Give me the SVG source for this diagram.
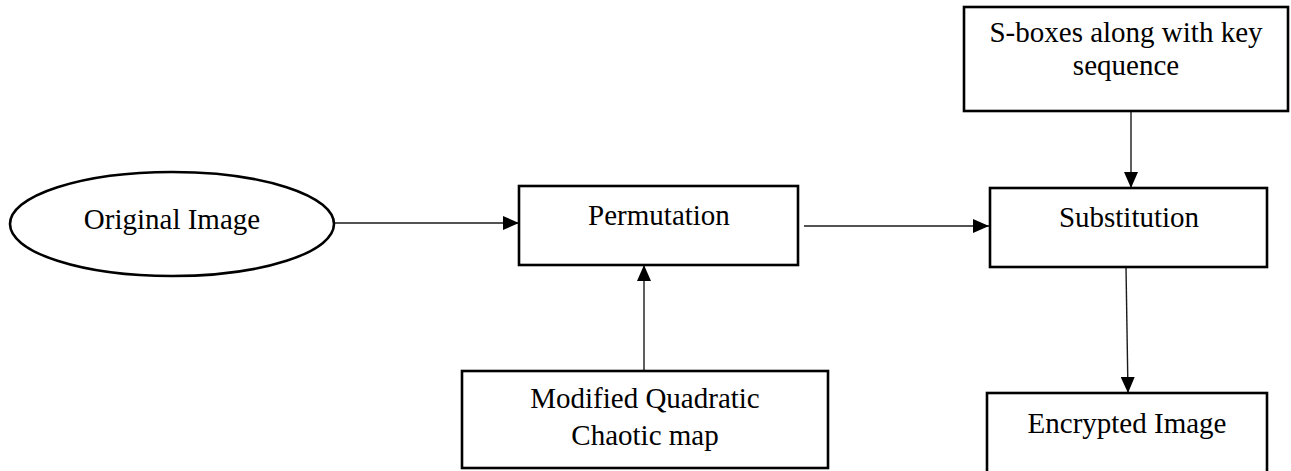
<svg xmlns="http://www.w3.org/2000/svg" width="1291" height="471" viewBox="0 0 1291 471">
  <style>
    .shape { fill: #ffffff; stroke: #000000; stroke-width: 2.6; }
    .label { font-family: "Liberation Serif", "Times New Roman", serif; font-size: 29px; fill: #000000; text-anchor: middle; }
    .wire { fill: none; stroke: #1a1a1a; stroke-width: 1.4; marker-end: url(#head); }
  </style>
  <defs>
    <marker id="head" markerUnits="userSpaceOnUse" markerWidth="16" markerHeight="14" refX="16" refY="7" orient="auto">
      <path d="M0,0 L16,7 L0,14 Z" fill="#000000"/>
    </marker>
  </defs>

  <rect width="1291" height="471" fill="#ffffff"/>

  <!-- connectors -->
  <g id="connectors">
    <line class="wire" x1="334" y1="223" x2="519" y2="223"/>
    <line class="wire" x1="804" y1="226" x2="989" y2="226"/>
    <line class="wire" x1="644" y1="371" x2="644" y2="265"/>
    <line class="wire" x1="1131" y1="111" x2="1131" y2="188"/>
    <line class="wire" x1="1126" y1="267" x2="1128" y2="393"/>
  </g>

  <!-- nodes -->
  <g id="original-image">
    <ellipse class="shape" cx="172" cy="224" rx="162" ry="52"/>
    <text class="label" x="172" y="229">Original Image</text>
  </g>

  <g id="permutation">
    <rect class="shape" x="519" y="186" width="279" height="79"/>
    <text class="label" x="659" y="225">Permutation</text>
  </g>

  <g id="chaotic-map">
    <rect class="shape" x="462" y="371" width="366" height="97"/>
    <text class="label" x="645" y="408">Modified Quadratic</text>
    <text class="label" x="645" y="445">Chaotic map</text>
  </g>

  <g id="s-boxes">
    <rect class="shape" x="964" y="7" width="324" height="104"/>
    <text class="label" x="1126" y="42">S-boxes along with key</text>
    <text class="label" x="1126" y="75">sequence</text>
  </g>

  <g id="substitution">
    <rect class="shape" x="990" y="188" width="277" height="79"/>
    <text class="label" x="1129" y="227">Substitution</text>
  </g>

  <g id="encrypted-image">
    <rect class="shape" x="987" y="393" width="280" height="90"/>
    <text class="label" x="1127" y="433">Encrypted Image</text>
  </g>
</svg>
